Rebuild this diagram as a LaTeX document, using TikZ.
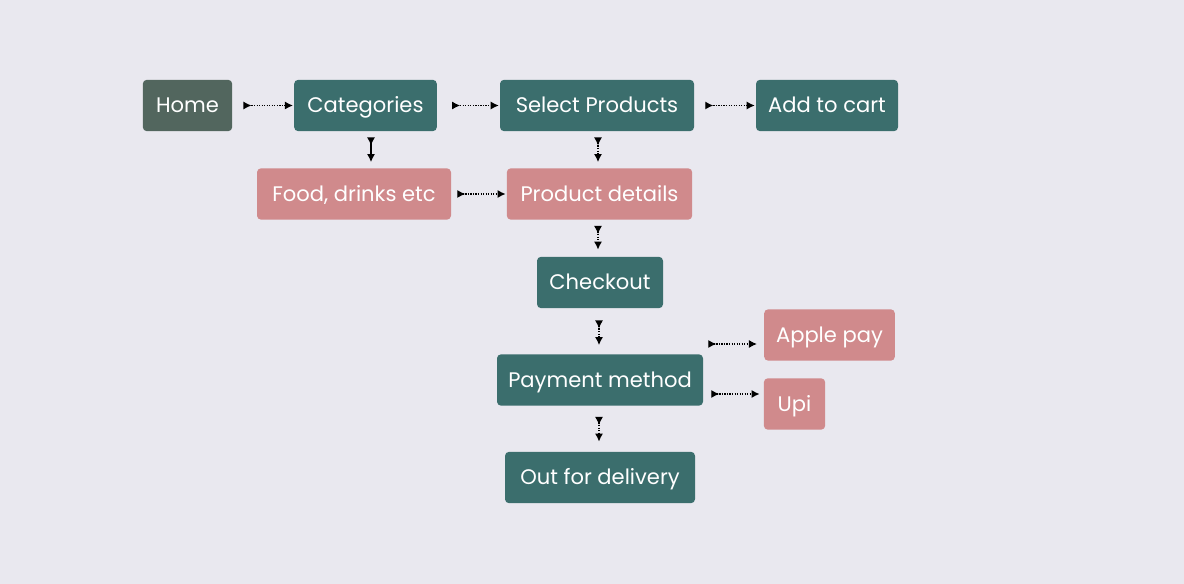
\documentclass[tikz,border=0pt]{standalone}
\usepackage{fontspec}
\setmainfont{Poppins}
\usetikzlibrary{arrows.meta, calc}

\definecolor{bgcol}{HTML}{E9E8EF}
\definecolor{tealbox}{HTML}{3B6E6D}
\definecolor{rosebox}{HTML}{D08A8C}
\definecolor{homebox}{HTML}{52665E}

\tikzset{
	box/.style={rounded corners=3pt, text=white, inner sep=0pt,
		minimum height=38.5pt, text height=13pt, text depth=2pt,
		font=\fontsize{15.8}{18}\selectfont},
	mainbox/.style={box, fill=tealbox},
	subbox/.style={box, fill=rosebox},
	link/.style={densely dotted, line width=0.9pt,
		{Latex[reversed, length=6pt, width=6pt]}-{Latex[length=6pt, width=6pt]}}
}

\begin{document}
\begin{tikzpicture}[x=0.75pt, y=-0.75pt]
	
	% 1. Canvas
	\useasboundingbox[fill=bgcol] (0,0) rectangle (1184,584);
	
	% 2. Top row
	\node[box, fill=homebox, minimum width=67pt] (home) at (187.5,105.5) {Home};
	\node[mainbox, minimum width=107pt] (cat) at (365.5,105.5) {Categories};
	\node[mainbox, minimum width=145.5pt] (sel) at (597,105.5) {Select Products};
	\node[mainbox, minimum width=106.5pt] (cart) at (827,105.5) {Add to cart};
	
	% 3. Second row
	\node[subbox, minimum width=145.5pt] (food) at (354,194) {Food, drinks etc};
	\node[subbox, minimum width=139pt] (detail) at (599.5,194) {Product details};
	
	% 4. Checkout column
	\node[mainbox, minimum width=94.5pt] (check) at (600,282.5) {Checkout};
	\node[mainbox, minimum width=154.5pt] (pay) at (600,380) {Payment method};
	\node[mainbox, minimum width=142.5pt] (out) at (600,477.5) {Out for delivery};
	
	% 5. Payment options
	\node[subbox, minimum width=98pt] (apple) at (829.5,335) {Apple pay};
	\node[subbox, minimum width=46pt] (upi) at (794.5,404) {Upi};
	
	% 6. Horizontal links
	\draw[link] ($(home.east)+(11,0)$) -- ($(cat.west)+(-1,0)$);
	\draw[link] ($(cat.east)+(15,0)$) -- ($(sel.west)+(-1,0)$);
	\draw[link] ($(sel.east)+(11,0)$) -- ($(cart.west)+(-1,0)$);
	\draw[link] ($(food.east)+(6,0)$) -- ($(detail.west)+(-1,0)$);
	\draw[link] ($(pay.east)+(5,-36)$) -- ($(apple.west)+(-7,9)$);
	\draw[link] ($(pay.east)+(8,14)$) -- ($(upi.west)+(-4,-10)$);
	
	% 7. Vertical links (the first one is solid)
	\draw[link, solid] ($(cat.south)+(5.5,6)$) -- ($(food.north)+(17,-6)$);
	\draw[link] ($(sel.south)+(1,6)$) -- ($(detail.north)+(-1.5,-6)$);
	\draw[link] ($(detail.south)+(-1.5,6)$) -- ($(check.north)+(-2,-7)$);
	\draw[link] ($(check.south)+(-1,12)$) -- ($(pay.north)+(-1,-9)$);
	\draw[link] ($(pay.south)+(-1,11)$) -- ($(out.north)+(-1,-10)$);
	
\end{tikzpicture}
\end{document}
